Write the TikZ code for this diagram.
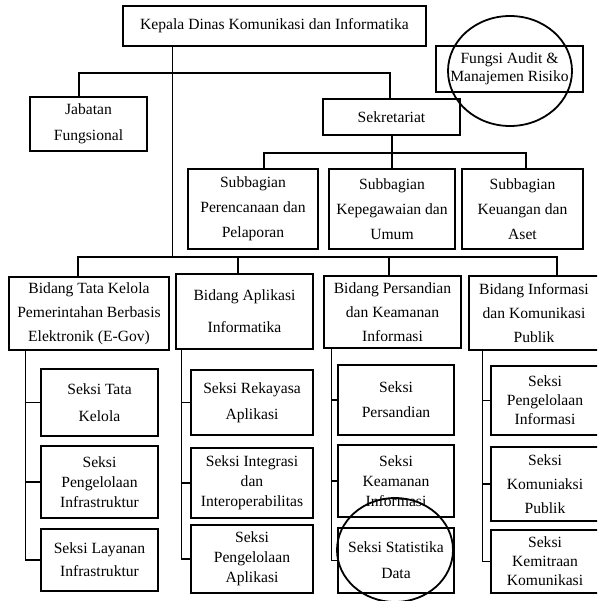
\documentclass[tikz,border=0pt]{standalone}
\usepackage{fontspec}
\setmainfont{Liberation Serif}
\usepackage{tikz}
\usetikzlibrary{positioning}

\begin{document}
\begin{tikzpicture}[x=1pt, y=-1pt,
		unitBox/.style={draw, line width=1.1pt, align=center, inner sep=0pt},
		lineSkip/.style={font=\fontsize{15.6}{#1}\selectfont},
		link/.style={line width=1.1pt},
		markRing/.style={line width=1.8pt}]
		
		\useasboundingbox (0,0) rectangle (597,601);
		\clip (0,0) rectangle (597,601);
		
		% top level
		\node [unitBox, lineSkip=18, minimum width=303, minimum height=40] (kepala) at (274.5, 26) {Kepala Dinas Komunikasi dan Informatika};
		\node [unitBox, lineSkip=26, minimum width=117, minimum height=54] (jabatan) at (88.5, 124) {Jabatan\\Fungsional};
		\node [unitBox, lineSkip=18, minimum width=147, minimum height=46] (fungsi) at (509.5, 69) {Fungsi Audit \&\\Manajemen Risiko};
		\node [unitBox, lineSkip=18, minimum width=137, minimum height=36] (sekretariat) at (391.5, 117) {Sekretariat};
		
		% subbagian
		\node [unitBox, lineSkip=25, minimum width=130, minimum height=80] (subA) at (253, 209) {Subbagian\\Perencanaan dan\\Pelaporan};
		\node [unitBox, lineSkip=25, minimum width=126, minimum height=80] (subB) at (392, 209) {Subbagian\\Kepegawaian dan\\Umum};
		\node [unitBox, lineSkip=25, minimum width=121, minimum height=80] (subC) at (522.5, 209) {Subbagian\\Keuangan dan\\Aset};
		
		% bidang
		\node [unitBox, lineSkip=24, minimum width=160, minimum height=73] (bTata) at (89, 313.5) {Bidang Tata Kelola\\Pemerintahan Berbasis\\Elektronik (E-Gov)};
		\node [unitBox, lineSkip=32, minimum width=137, minimum height=75] (bApl) at (244.5, 311.5) {Bidang Aplikasi\\Informatika};
		\node [unitBox, lineSkip=24, minimum width=137, minimum height=72] (bSandi) at (392.5, 312) {Bidang Persandian\\dan Keamanan\\Informasi};
		\node [unitBox, lineSkip=24, minimum width=130, minimum height=74] (bInfo) at (534, 313) {Bidang Informasi\\dan Komunikasi\\Publik};
		
		% seksi
		\node [unitBox, lineSkip=27, minimum width=117, minimum height=67] (sTata) at (99.5, 402.5) {Seksi Tata\\Kelola};
		\node [unitBox, lineSkip=20, minimum width=117, minimum height=72] (sInfra) at (99.5, 482) {Seksi\\Pengelolaan\\Infrastruktur};
		\node [unitBox, lineSkip=23, minimum width=117, minimum height=62] (sLayanan) at (99.5, 560) {Seksi Layanan\\Infrastruktur};
		
		\node [unitBox, lineSkip=26, minimum width=122, minimum height=65] (sRekayasa) at (252, 402.5) {Seksi Rekayasa\\Aplikasi};
		\node [unitBox, lineSkip=20, minimum width=122, minimum height=70] (sIntegrasi) at (252, 483) {Seksi Integrasi\\dan\\Interoperabilitas};
		\node [unitBox, lineSkip=20, minimum width=122, minimum height=68] (sPengApl) at (252, 559) {Seksi\\Pengelolaan\\Aplikasi};
		
		\node [unitBox, lineSkip=25, minimum width=116, minimum height=70] (sSandi) at (396, 400) {Seksi\\Persandian};
		\node [unitBox, lineSkip=20, minimum width=116, minimum height=72] (sKeamanan) at (396, 481) {Seksi\\Keamanan\\Informasi};
		\node [unitBox, lineSkip=26, minimum width=116, minimum height=65] (sStatistik) at (396, 560.5) {Seksi Statistika\\Data};
		
		\node [unitBox, lineSkip=19, minimum width=108, minimum height=69] (sPengInfo) at (545, 400.5) {Seksi\\Pengelolaan\\Informasi};
		\node [unitBox, lineSkip=24, minimum width=108, minimum height=74] (sKomPub) at (545, 484) {Seksi\\Komuniaksi\\Publik};
		\node [unitBox, lineSkip=19, minimum width=108, minimum height=63] (sKemitraan) at (545, 561.5) {Seksi\\Kemitraan\\Komunikasi};
		
		% hubs
		\coordinate (hubTop) at (172.5, 73);
		\coordinate (hubBid) at (172.5, 257);
		\coordinate (hubSub) at (392, 153);
		
		\draw [link] (kepala.south -| hubTop) -- (hubBid);
		\draw [link] ([xshift=-9.5pt]jabatan.north) |- (hubTop) -| ([xshift=-1.5pt]sekretariat.north);
		
		\draw [link] (sekretariat.south -| hubSub) -- (hubSub);
		\draw [link] ([xshift=11pt]subA.north) |- (hubSub) -| ([xshift=3.5pt]subC.north);
		\draw [link] (subB.north) -- (hubSub);
		
		\draw [link] ([xshift=-11pt]bTata.north) |- (hubBid) -| ([xshift=23pt]bInfo.north);
		\draw [link] ([xshift=-6.5pt]bApl.north) -- ([xshift=-6.5pt]bApl.north |- hubBid);
		\draw [link] ([xshift=-3.5pt]bSandi.north) -- ([xshift=-3.5pt]bSandi.north |- hubBid);
		
		% spines
		\draw [link] ([xshift=17pt]bTata.south west) |- (sLayanan.west);
		\foreach \s in {sTata, sInfra}
		{\draw [link] (\s.west) -- ++(-15,0);}
		\draw [link] ([xshift=6pt]bApl.south west) |- (sPengApl.west);
		\foreach \s in {sRekayasa, sIntegrasi}
		{\draw [link] (\s.west) -- ++(-9,0);}
		\draw [link] ([xshift=8pt]bSandi.south west) |- (sStatistik.west);
		\foreach \s in {sSandi, sKeamanan}
		{\draw [link] (\s.west) -- ++(-6,0);}
		\draw [link] ([xshift=14pt]bInfo.south west) |- (sKemitraan.west);
		\foreach \s in {sPengInfo, sKomPub}
		{\draw [link] (\s.west) -- ++(-8,0);}
		
		% rings
		\draw [markRing] (510, 71) ellipse [x radius=62, y radius=55];
		\draw [markRing] (395, 550) ellipse [x radius=58, y radius=52];
	\end{tikzpicture}
\end{document}
